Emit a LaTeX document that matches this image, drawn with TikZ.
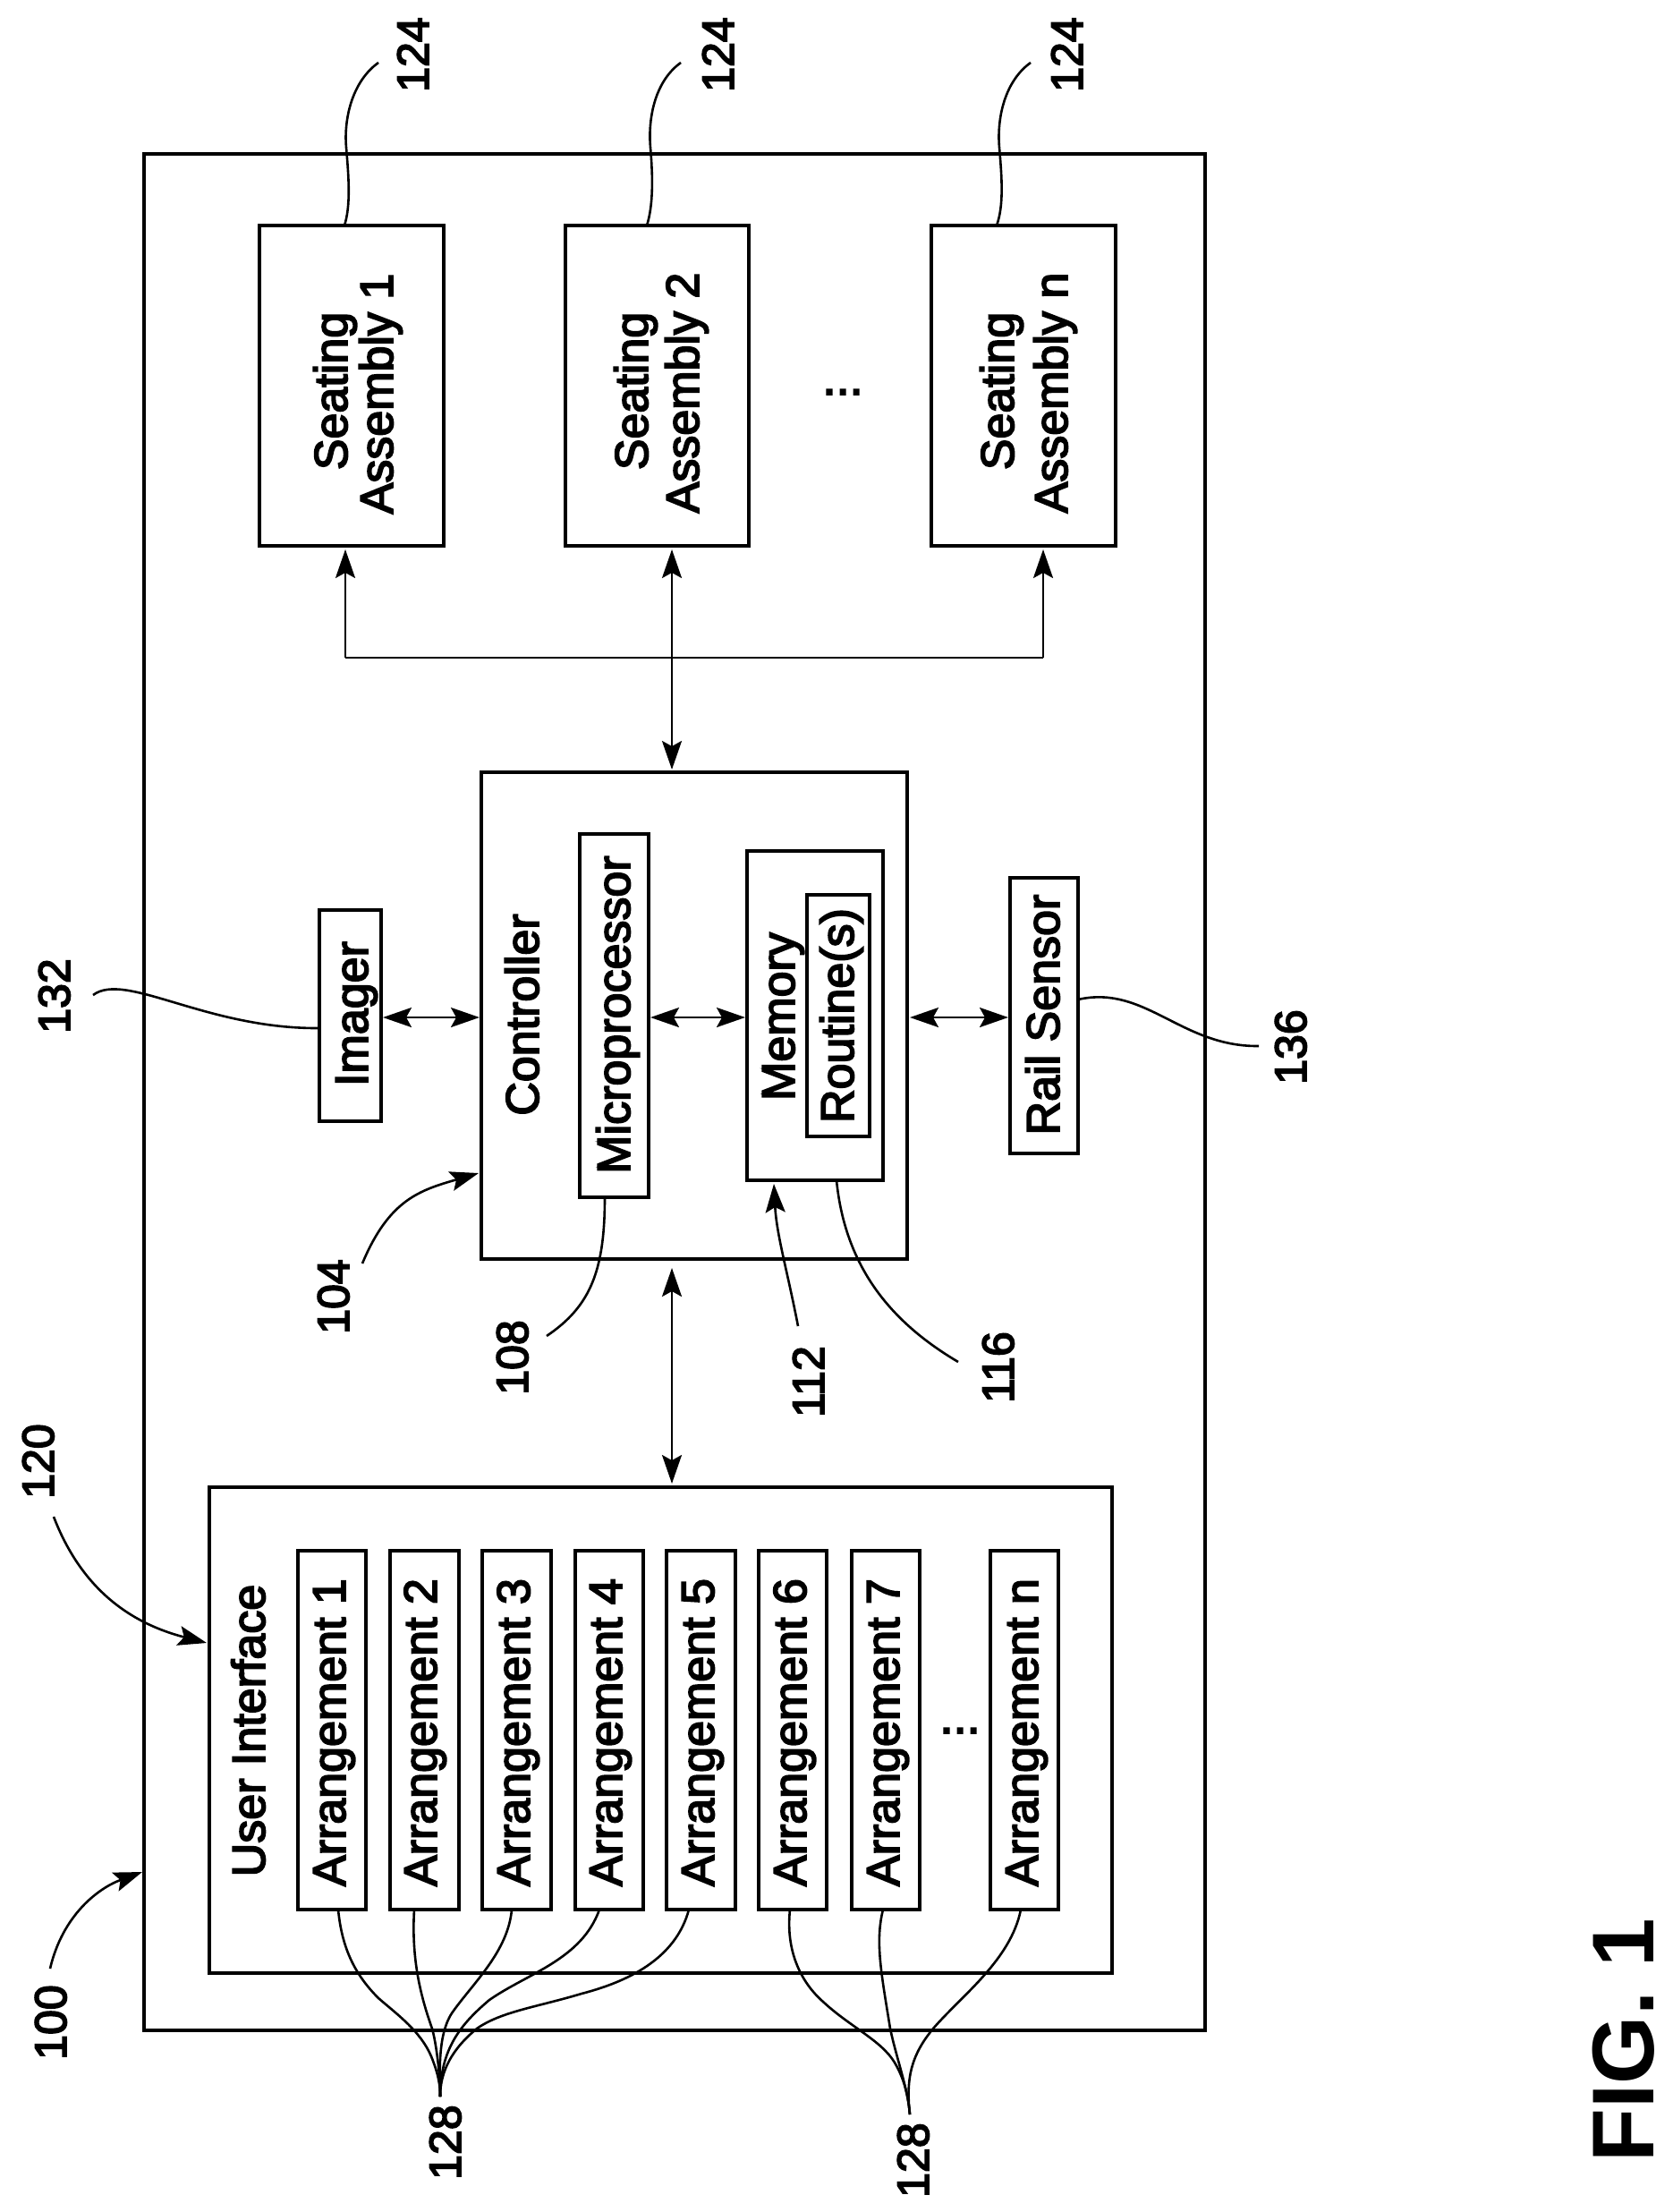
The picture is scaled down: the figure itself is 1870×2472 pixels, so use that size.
\documentclass[tikz,border=0pt]{standalone}
\usepackage{fontspec}
\setmainfont{Liberation Sans}
\newfontfamily\medfont[FakeBold=3.5]{Liberation Sans}
\usetikzlibrary{arrows.meta}
\newcommand\fs[1]{\fontsize{#1}{#1}\selectfont}
\tikzset{
  x=1pt,y=-1pt,
  >={Stealth[length=32pt,width=22pt,inset=6pt]},
  thinline/.style={line width=2.6pt,black},
  leader/.style={line width=2.6pt,black},
  arr/.style={thinline,<->},
  arrone/.style={leader,->},
  boxed/.style={draw=black,line width=4.4pt,inner sep=0pt,rectangle},
  lab/.style={rotate=90,anchor=base,font=\medfont\fs{52},inner sep=0pt,text=black},
  dotted text/.style={anchor=base,font=\medfont\fs{54},inner sep=0pt,text=black},
  num/.style={rotate=90,anchor=base,font=\medfont\fs{50},inner sep=0pt,text=black},
}
% name, x0, y0, x1, y1
\newcommand\bx[5]{%
  \pgfmathsetmacro\wid{#4-#2}\pgfmathsetmacro\hei{#5-#3}%
  \pgfmathsetmacro\cx{(#2+#4)/2}\pgfmathsetmacro\cy{(#3+#5)/2}%
  \node[boxed,minimum width=\wid pt,minimum height=\hei pt] (#1) at (\cx,\cy) {};%
}
\begin{document}
\begin{tikzpicture}
\useasboundingbox (0,0) rectangle (1870,2472);
\bx{outer}{161}{172}{1347}{2269}
\bx{seatA}{290}{252}{496}{610}
\bx{seatB}{632}{252}{837}{610}
\bx{seatC}{1041}{252}{1247}{610}
\bx{ctrl}{538}{863}{1014}{1407}
\bx{micro}{648}{932}{725}{1338}
\bx{mem}{835}{951}{987}{1319}
\bx{rout}{902}{1000}{972}{1270}
\bx{imager}{357}{1017}{426}{1253}
\bx{rail}{1129}{981}{1205}{1289}
\bx{ui}{234}{1662}{1243}{2205}
\bx{a1}{333}{1733}{409}{2134}
\bx{a2}{436}{1733}{513}{2134}
\bx{a3}{539}{1733}{616}{2134}
\bx{a4}{643}{1733}{719}{2134}
\bx{a5}{745}{1733}{822}{2134}
\bx{a6}{848}{1733}{924}{2134}
\bx{a7}{952}{1733}{1028}{2134}
\bx{a8}{1107}{1733}{1183}{2134}
% texts
\node[lab] (tsa1) at (388,437) {Seating};
\node[lab] (tsa2) at (439,440) {Assembly 1};
\node[lab] (tsb1) at (724,437) {Seating};
\node[lab] (tsb2) at (781,439) {Assembly 2};
\node[lab] (tsc1) at (1133,437) {Seating};
\node[lab] (tsc2) at (1193,439) {Assembly n};
\node[dotted text] (dots1) at (942,441) {...};
\node[lab] (tctrl) at (602,1134) {Controller};
\node[lab] (tmicro) at (704,1134) {Microprocessor};
\node[lab] (tmem) at (888,1136) {Memory};
\node[lab] (trout) at (954,1135) {Routine(s)};
\node[lab] (timg) at (411,1133) {Imager};
\node[lab] (trail) at (1184,1134) {Rail Sensor};
\node[lab] (tui) at (296,1934) {User Interface};
\node[lab] (ta1) at (386,1936) {Arrangement 1};
\node[lab] (ta2) at (488,1936) {Arrangement 2};
\node[lab] (ta3) at (592,1936) {Arrangement 3};
\node[lab] (ta4) at (695,1936) {Arrangement 4};
\node[lab] (ta5) at (798,1936) {Arrangement 5};
\node[lab] (ta6) at (901,1936) {Arrangement 6};
\node[lab] (ta7) at (1005,1936) {Arrangement 7};
\node[lab] (ta8) at (1160,1936) {Arrangement n};
\node[dotted text] (dots2) at (1073,1937) {...};
\node[rotate=90,anchor=base,font=\bfseries\fs{98},inner sep=0pt,text=black] (fig) at (1848,2280) {FIG. 1};
% numbers
\node[num] (n124a) at (479,61) {124};
\node[num] (n124b) at (820,61) {124};
\node[num] (n124c) at (1210,61) {124};
\node[num] (n132) at (78,1113) {132};
\node[num] (n136) at (1460,1170) {136};
\node[num] (n104) at (390,1449) {104};
\node[num] (n108) at (590,1517) {108};
\node[num] (n112) at (921,1544) {112};
\node[num] (n116) at (1133,1528) {116};
\node[num] (n120) at (60,1633) {120};
\node[num] (n100) at (74,2260) {100};
\node[num] (n128a) at (515,2394) {128};
\node[num] (n128b) at (1038,2414) {128};
% connector ends
\coordinate (bA) at (386,614);
\coordinate (bB) at (751,614);
\coordinate (bC) at (1166,614);
\coordinate (hA) at (386,735);
\coordinate (hB) at (751,735);
\coordinate (hC) at (1166,735);
\coordinate (cT) at (751,860);
\coordinate (cB) at (751,1417);
\coordinate (uT) at (751,1658);
\draw[thinline,->] (hA) -- (bA);
\draw[thinline,->] (hC) -- (bC);
\draw[thinline] (hA) -- (hC);
\draw[arr] (bB) -- (cT);
\draw[arr] (cB) -- (uT);
\coordinate (i1) at (428,1137);
\coordinate (i2) at (536,1137);
\coordinate (m1) at (727,1137);
\coordinate (m2) at (833,1137);
\coordinate (r1) at (1017,1137);
\coordinate (r2) at (1127,1137);
\draw[arr] (i1) -- (i2);
\draw[arr] (m1) -- (m2);
\draw[arr] (r1) -- (r2);
% leaders
\coordinate (s1) at (423,70); \coordinate (e1) at (385,252);
\coordinate (s2) at (761,70); \coordinate (e2) at (723,252);
\coordinate (s3) at (1152,70); \coordinate (e3) at (1114,252);
\draw[leader] (s1) .. controls (395,90) and (384,130) .. (387,165) .. controls (390,200) and (392,230) .. (e1);
\draw[leader] (s2) .. controls (733,90) and (724,130) .. (727,165) .. controls (730,200) and (730,230) .. (e2);
\draw[leader] (s3) .. controls (1124,90) and (1114,130) .. (1117,165) .. controls (1120,200) and (1122,230) .. (e3);
\coordinate (l132) at (104,1112); \coordinate (e132) at (357,1149);
\draw[leader] (l132) .. controls (140,1085) and (230,1150) .. (e132);
\coordinate (e136) at (1205,1117); \coordinate (l136) at (1407,1169);
\draw[leader] (e136) .. controls (1280,1100) and (1320,1170) .. (l136);
\coordinate (l104) at (405,1412); \coordinate (e104) at (535,1311);
\draw[arrone] (l104) .. controls (435,1340) and (470,1330) .. (e104);
\coordinate (e108) at (676,1338); \coordinate (l108) at (611,1493);
\draw[leader] (e108) .. controls (676,1420) and (660,1460) .. (l108);
\coordinate (l112) at (892,1482); \coordinate (e112) at (865,1323);
\draw[arrone] (l112) .. controls (880,1420) and (868,1380) .. (e112);
\coordinate (e116) at (935,1319); \coordinate (l116) at (1071,1522);
\draw[leader] (e116) .. controls (945,1420) and (1000,1480) .. (l116);
\coordinate (l120) at (60,1695); \coordinate (e120) at (231,1836);
\draw[arrone] (l120) .. controls (85,1760) and (130,1810) .. (e120);
\coordinate (l100) at (56,2200); \coordinate (e100) at (159,2092);
\draw[arrone] (l100) .. controls (70,2140) and (110,2110) .. (e100);
% 128 fans
\coordinate (t1) at (492,2343);
\coordinate (f1) at (378,2134); \coordinate (f2) at (463,2134);
\coordinate (f3) at (572,2134); \coordinate (f4) at (670,2134);
\coordinate (f5) at (770,2134);
\draw[leader] (f1) .. controls (382,2175) and (395,2205) .. (423,2233) .. controls (445,2252) and (470,2270) .. (482,2298) .. controls (490,2318) and (492,2330) .. (t1);
\draw[leader] (f2) .. controls (460,2185) and (468,2225) .. (483,2267) .. controls (488,2285) and (492,2320) .. (t1);
\draw[leader] (f3) .. controls (568,2180) and (530,2215) .. (507,2247) .. controls (488,2272) and (492,2320) .. (t1);
\draw[leader] (f4) .. controls (650,2190) and (590,2205) .. (547,2235) .. controls (515,2262) and (492,2290) .. (t1);
\draw[leader] (f5) .. controls (755,2190) and (700,2215) .. (650,2228) .. controls (600,2243) and (560,2248) .. (533,2267) .. controls (505,2290) and (492,2315) .. (t1);
\coordinate (t2) at (1017,2363);
\coordinate (f6) at (883,2134); \coordinate (f7) at (987,2134); \coordinate (f8) at (1141,2134);
\draw[leader] (f6) .. controls (878,2180) and (895,2215) .. (920,2237) .. controls (950,2265) and (985,2280) .. (1000,2305) .. controls (1010,2322) and (1015,2340) .. (t2);
\draw[leader] (f7) .. controls (978,2170) and (985,2205) .. (995,2267) .. controls (1002,2300) and (1015,2335) .. (t2);
\draw[leader] (f8) .. controls (1130,2190) and (1075,2230) .. (1043,2267) .. controls (1020,2295) and (1012,2320) .. (t2);
\end{tikzpicture}
\end{document}
